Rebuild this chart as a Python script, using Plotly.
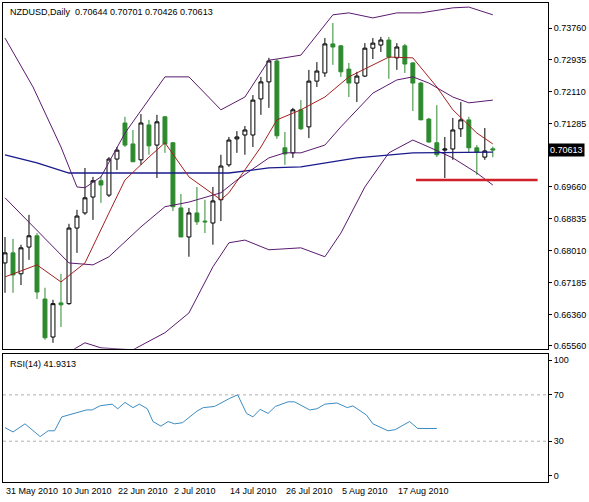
import plotly.graph_objects as go
from plotly.subplots import make_subplots

# daily NZDUSD candles, bar index 0 = 31 May 2010
opens = [0.6770, 0.6796, 0.6742, 0.6811, 0.6840, 0.6677, 0.6579, 0.6667, 0.6665, 0.6860,
         0.6899, 0.6940, 0.6982, 0.6945, 0.7038, 0.7131, 0.7077, 0.7036, 0.7126, 0.7074,
         0.7147, 0.7080, 0.6912, 0.6837, 0.6899, 0.6878, 0.6873, 0.6933, 0.7023, 0.7090,
         0.7100, 0.7100, 0.7193, 0.7237, 0.7291, 0.7067, 0.7054, 0.7165, 0.7121, 0.7239,
         0.7260, 0.7335, 0.7330, 0.7270, 0.7234, 0.7252, 0.7324, 0.7332, 0.7345, 0.7299,
         0.7330, 0.7286, 0.7234, 0.7141, 0.7080, 0.7061, 0.7064, 0.7116, 0.7139, 0.7067,
         0.7043, 0.70644]
highs = [0.6837, 0.6832, 0.6817, 0.6894, 0.6847, 0.6706, 0.6675, 0.6742, 0.6871, 0.6907,
         0.7015, 0.6992, 0.6994, 0.7043, 0.7069, 0.7147, 0.7113, 0.7154, 0.7139, 0.7152,
         0.7149, 0.7082, 0.6948, 0.6912, 0.6966, 0.6933, 0.6966, 0.7049, 0.7095, 0.7110,
         0.7123, 0.7203, 0.7250, 0.7299, 0.7296, 0.7108, 0.7170, 0.7190, 0.7268, 0.7288,
         0.7350, 0.7389, 0.7332, 0.7286, 0.7263, 0.7337, 0.7350, 0.7353, 0.7353, 0.7337,
         0.7335, 0.7288, 0.7237, 0.7144, 0.7177, 0.7095, 0.7144, 0.7185, 0.7147, 0.7074,
         0.7118, 0.70701]
lows = [0.6693, 0.6693, 0.6713, 0.6778, 0.6677, 0.6572, 0.6564, 0.6605, 0.6662, 0.6796,
        0.6894, 0.6881, 0.6925, 0.6940, 0.7010, 0.7069, 0.7031, 0.7023, 0.7049, 0.6989,
        0.7054, 0.6904, 0.6837, 0.6786, 0.6868, 0.6847, 0.6817, 0.6878, 0.7018, 0.7054,
        0.7049, 0.7069, 0.7152, 0.7170, 0.7090, 0.7023, 0.7041, 0.7113, 0.7092, 0.7224,
        0.7250, 0.7281, 0.7250, 0.7198, 0.7185, 0.7250, 0.7296, 0.7314, 0.7245, 0.7268,
        0.7260, 0.7162, 0.7139, 0.7080, 0.7043, 0.6989, 0.7036, 0.7095, 0.7054, 0.6997,
        0.7036, 0.70426]
closes = [0.6796, 0.6739, 0.6809, 0.6840, 0.6695, 0.6577, 0.6665, 0.6662, 0.6860, 0.6891,
          0.6938, 0.6982, 0.6971, 0.7038, 0.7061, 0.7074, 0.7031, 0.7131, 0.7072, 0.7134,
          0.7077, 0.6915, 0.6837, 0.6899, 0.6876, 0.6876, 0.6930, 0.7020, 0.7087, 0.7095,
          0.7113, 0.7190, 0.7237, 0.7291, 0.7098, 0.7051, 0.7165, 0.7116, 0.7239, 0.7265,
          0.7335, 0.7327, 0.7263, 0.7234, 0.7252, 0.7324, 0.7337, 0.7345, 0.7301, 0.7327,
          0.7283, 0.7234, 0.7139, 0.7082, 0.7049, 0.7064, 0.7113, 0.7139, 0.7067, 0.7056,
          0.7059, 0.70613]

# indicator lines (bar index, price)
bb_up_x = [0, 3.5, 7, 9, 10, 12, 15, 20, 23, 27, 30, 33, 34, 37, 41, 43, 46, 49, 52, 56, 58, 61]
bb_up_y = [0.7350, 0.7224, 0.7069, 0.6966, 0.6964, 0.6992, 0.7105, 0.7250, 0.7250, 0.7165, 0.7198,
           0.7293, 0.7296, 0.7306, 0.7410, 0.7415, 0.7402, 0.7415, 0.7415, 0.7428, 0.7430, 0.7410]
bb_mid_x = [0, 4, 8, 11, 13, 17, 20, 23, 27, 29, 33, 35, 37, 40, 42, 46, 49, 51, 53, 56, 58, 61]
bb_mid_y = [0.6938, 0.6855, 0.6770, 0.6765, 0.6786, 0.6863, 0.6915, 0.6927, 0.6951, 0.6984, 0.7041,
            0.7054, 0.7054, 0.7074, 0.7121, 0.7208, 0.7242, 0.7250, 0.7234, 0.7198, 0.7183, 0.7190]
bb_low_x = [8.5, 10, 12, 16, 20, 23, 26, 28, 30, 33, 37, 40, 42, 45, 48, 51, 53, 56, 59, 61]
bb_low_y = [0.6546, 0.6564, 0.6551, 0.6546, 0.6590, 0.6641, 0.6760, 0.6822, 0.6829, 0.6804,
            0.6809, 0.6786, 0.6847, 0.6966, 0.7054, 0.7087, 0.7069, 0.7041, 0.7002, 0.6971]
ma_fast_x = [0, 4, 7, 10, 13, 15, 18, 20, 23, 27, 28, 32, 34, 37, 40, 43, 48, 51, 54, 56, 59, 61]
ma_fast_y = [0.6734, 0.6765, 0.6721, 0.6770, 0.6899, 0.6984, 0.7043, 0.7080, 0.6992, 0.6933, 0.6951,
             0.7069, 0.7139, 0.7165, 0.7198, 0.7250, 0.7301, 0.7299, 0.7224, 0.7165, 0.7105, 0.7077]
ma_slow_x = [0, 4, 8, 12, 20, 28, 33, 37, 44, 51, 61]
ma_slow_y = [0.7049, 0.7028, 0.7002, 0.7002, 0.7002, 0.7002, 0.7015, 0.7018, 0.7041, 0.7054, 0.7056]

support_level = 0.6984
support_from, support_to = 51.4, 66.6

rsi_x = [0, 1, 2.5, 4.4, 5.4, 6.2, 7.1, 10.2, 10.9, 11.9, 13.4, 14.1, 15, 16, 16.8, 17.8, 18.5,
         19.5, 20.4, 21.2, 22.2, 24, 24.8, 26.2, 28.1, 29.1, 30.2, 31, 31.9, 32.9, 33.8, 35.4,
         36.2, 38.1, 39, 40, 41.5, 42.8, 43.5, 45.2, 46, 47.9, 48.8, 50.6, 51.6, 54]
rsi_y = [41.7, 38, 45, 34, 39, 39, 51, 57, 57, 60.6, 62, 58, 63.5, 59, 62, 58, 47, 43, 47, 45,
         46, 56, 59, 60, 67, 70, 54, 51, 57.5, 54, 60, 64, 64, 57, 58, 62, 63, 59, 60.5, 52.6,
         45, 39, 40, 47, 41, 41]

price_ticks = [0.73760, 0.72935, 0.72110, 0.71285, 0.69660, 0.68835, 0.68010, 0.67185, 0.66360, 0.65560]
date_pos = [0, 7, 14, 21, 28, 35, 42, 49]
date_labels = ["31 May 2010", "10 Jun 2010", "22 Jun 2010", "2 Jul 2010",
               "14 Jul 2010", "26 Jul 2010", "5 Aug 2010", "17 Aug 2010"]

FONT = "Liberation Sans"
bars = list(range(len(opens)))

fig = make_subplots(rows=2, cols=1, shared_xaxes=True, vertical_spacing=0.011,
                    row_heights=[0.73, 0.27])

def line(x, y, color, width=1):
    return go.Scatter(x=x, y=y, mode="lines", line=dict(color=color, width=width),
                      hoverinfo="skip", showlegend=False)

fig.add_trace(line(bb_up_x, bb_up_y, "#5a1a6e"), row=1, col=1)
fig.add_trace(line(bb_mid_x, bb_mid_y, "#5a1a6e"), row=1, col=1)
fig.add_trace(line(bb_low_x, bb_low_y, "#5a1a6e"), row=1, col=1)
fig.add_trace(line(ma_slow_x, ma_slow_y, "#1a1a8c", 1.3), row=1, col=1)
fig.add_trace(line(ma_fast_x, ma_fast_y, "#a32020"), row=1, col=1)
fig.add_trace(go.Candlestick(
    x=bars, open=opens, high=highs, low=lows, close=closes,
    increasing=dict(line=dict(color="black", width=1), fillcolor="white"),
    decreasing=dict(line=dict(color="#2f8a2f", width=1), fillcolor="#2f8a2f"),
    whiskerwidth=0, showlegend=False), row=1, col=1)
fig.add_trace(line([support_from, support_to], [support_level, support_level], "#d0202a", 2.5), row=1, col=1)

fig.add_trace(line([-1, 70], [70, 70], "#b0b0b0"), row=2, col=1)
fig.add_trace(line([-1, 70], [30, 30], "#b0b0b0"), row=2, col=1)
fig.data[-1].line.dash = "dot"
fig.data[-2].line.dash = "dot"
fig.add_trace(line(rsi_x, rsi_y, "#3c8cc0"), row=2, col=1)

fig.update_layout(
    width=589, height=502, plot_bgcolor="white", paper_bgcolor="white",
    margin=dict(l=3, r=41, t=3, b=20),
    font=dict(family=FONT, size=9, color="black"),
    xaxis_rangeslider_visible=False,
)
fig.update_xaxes(range=[-0.25, 67.9], showgrid=False, showticklabels=False, ticks="",
                 showline=True, linecolor="black", linewidth=1, mirror=True, zeroline=False)
fig.update_yaxes(side="right", showgrid=False, zeroline=False, showline=True, linecolor="black",
                 linewidth=1, mirror=True, ticks="outside", ticklen=3, tickcolor="black")
fig.update_yaxes(range=[0.65485, 0.74405], tickvals=price_ticks,
                 ticktext=["%.5f" % v for v in price_ticks], row=1, col=1)
fig.update_yaxes(range=[-5.2, 105.2], tickvals=[0, 30, 70, 100], row=2, col=1)

fig.add_annotation(text="NZDUSD,Daily  0.70644 0.70701 0.70426 0.70613", xref="paper", yref="paper",
                   x=0.01, y=0.995, xanchor="left", yanchor="top", showarrow=False)
fig.add_annotation(text="RSI(14) 41.9313", xref="paper", yref="paper",
                   x=0.01, y=0.262, xanchor="left", yanchor="top", showarrow=False)
fig.add_annotation(text="0.70613", xref="paper", yref="y", x=1.0, y=closes[-1], xanchor="left",
                   showarrow=False, bgcolor="black", font=dict(color="white"), borderpad=1)
for p, lab in zip(date_pos, date_labels):
    fig.add_annotation(text=lab, xref="x2", yref="paper", x=p - 0.1, y=0, xanchor="left",
                       yanchor="top", yshift=-2, showarrow=False)

# page body has a default margin that pushes the figure off the window edge
fig.write_html("out.html", config={"displayModeBar": False},
               post_script="document.body.style.margin='0';")
